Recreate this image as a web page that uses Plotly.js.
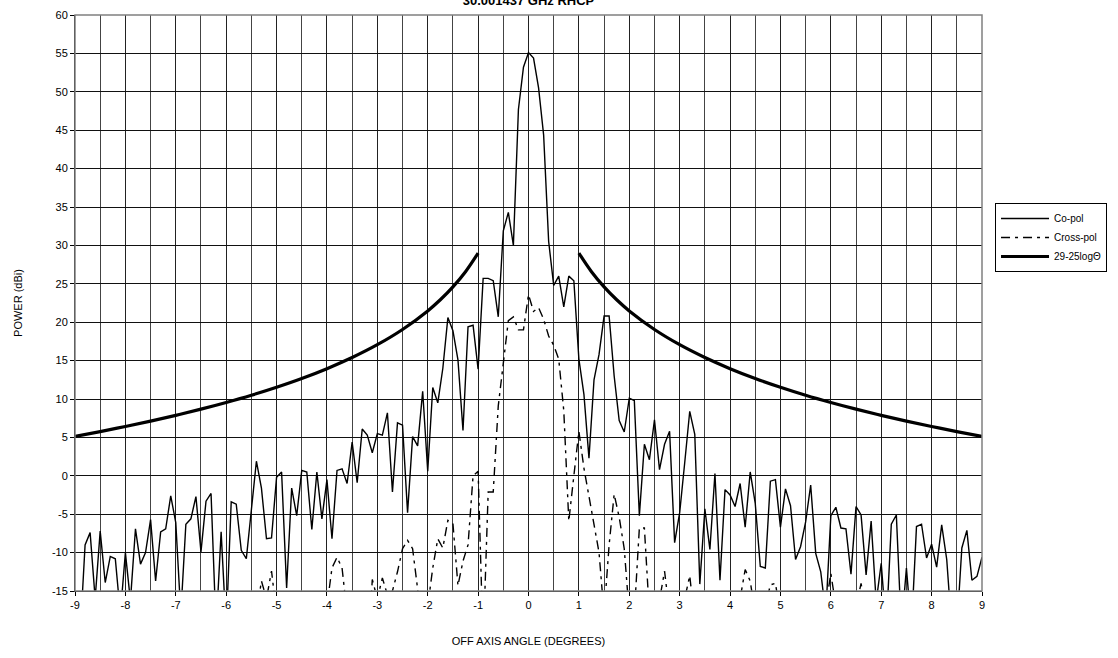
<!DOCTYPE html>
<html>
<head>
<meta charset="utf-8">
<script src="https://cdn.plot.ly/plotly-3.0.1.min.js"></script>
<style>html,body{margin:0;padding:0;background:#fff;}#chart{width:1118px;height:658px;}</style>
</head>
<body>
<div id="chart"></div>
<script>
// Off-axis angle (degrees), 0.1 deg steps from -9 to 9
const angles = [];
for (let i = 0; i <= 180; i++) angles.push(Math.round((-9 + i * 0.1) * 10) / 10);

// Co-pol (dBi)
const coPol = [
 -20,-21,-9.0,-7.4,-16,-7.2,-13.9,-10.5,-10.8,-18,
 -10.0,-16.3,-6.9,-11.5,-10.0,-5.7,-13.7,-7.3,-6.9,-2.6,
 -6.1,-18,-6.3,-5.6,-2.7,-9.9,-3.3,-2.3,-20,-7.3,
 -20,-3.4,-3.7,-9.7,-10.8,-4.5,1.9,-1.6,-8.2,-8.1,
 -0.2,0.5,-14.6,-1.6,-5.2,0.7,0.5,-7.0,0.5,-5.6,
 -0.5,-8.2,0.7,0.9,-1.0,4.4,-0.9,6.1,5.3,3.0,
 5.5,5.3,8.2,-2.1,6.9,6.6,-4.8,5.1,3.9,11.0,
 0.6,11.5,9.5,14.0,20.6,18.9,15.1,5.9,19.4,19.6,
 13.9,25.7,25.7,25.4,20.7,31.9,34.3,30.0,47.7,53.2,
 55.1,54.4,50.5,44.4,30.5,24.8,26.0,22.0,26.0,25.4,
 15.2,10.6,2.3,12.5,15.8,20.8,20.8,13.0,7.2,5.7,
 10.1,9.8,-5.2,4.1,2.1,7.3,0.8,4.1,5.8,-8.7,
 -4.8,1.7,8.4,5.4,-14.1,-4.3,-9.6,0.3,-13.6,-1.8,
 -2.5,-4.0,-1.0,-6.7,0.5,-3.6,-11.8,-12.0,-0.7,-0.5,
 -6.7,-1.7,-3.9,-10.9,-9.2,-6.0,-1.2,-10.1,-12.5,-18,
 -5.2,-4.1,-6.8,-6.9,-12.8,-4.0,-5.1,-12.9,-5.9,-16.4,
 -11.4,-20,-6.3,-5.1,-20,-12.0,-20,-6.6,-6.3,-10.7,
 -8.9,-11.9,-6.4,-10.9,-20,-20,-9.4,-7.1,-13.6,-13.1,
 -10.6
];

// Cross-pol (dBi)
const crossPol = [
 -25,-25,-25,-25,-25,-25,-25,-25,-25,-25,
 -25,-25,-25,-25,-25,-25,-25,-25,-25,-25,
 -25,-25,-25,-25,-25,-25,-25,-25,-25,-25,
 -25,-25,-25,-25,-25,-25,-18,-13.7,-16,-12.4,
 -18,-25,-25,-25,-25,-25,-25,-25,-25,-25,
 -17,-12,-10.6,-12,-18,-25,-25,-25,-25,-13.5,
 -16,-13.3,-15.5,-15,-12.5,-9.5,-8.4,-9.5,-14.5,-20,
 -17,-12,-8.2,-9.4,-5.8,-6.2,-14.3,-11.1,-9.0,0.0,
 0.6,-22,-2.1,-2.1,9.1,15.1,20.2,20.7,19.0,19.0,
 23.6,21.4,21.9,20.4,18.2,17.0,15.2,8.5,-5.9,0.0,
 5.8,1.0,-2.5,-6.5,-10.0,-18,-9.0,-2.4,-5.4,-9.5,
 -18,-18,-6.8,-6.8,-18,-20,-16,-12.4,-18,-25,
 -25,-16,-13.0,-20,-25,-25,-25,-25,-25,-25,
 -25,-25,-16,-12.2,-13.7,-18,-25,-17,-14.2,-14.0,
 -18,-25,-25,-25,-25,-25,-25,-25,-25,-17,
 -12.7,-17,-25,-25,-25,-17,-14.0,-18,-25,-25,
 -25,-25,-25,-25,-25,-25,-25,-25,-25,-25,
 -25,-25,-25,-25,-25,-25,-25,-25,-25,-25,
 -25
];

// 29-25logΘ envelope, values (null splits the two halves)
const envAngles = [-9,-8.5,-8,-7.5,-7,-6.5,-6,-5.5,-5,-4.5,-4,-3.5,-3,-2.5,-2,-1.75,-1.5,-1.25,-1,
                   null,
                   1,1.25,1.5,1.75,2,2.5,3,3.5,4,4.5,5,5.5,6,6.5,7,7.5,8,8.5,9];
const envValues = [5.14,5.76,6.42,7.12,7.87,8.68,9.55,10.49,11.53,12.67,13.95,15.40,17.07,19.05,21.47,22.92,24.60,26.58,29.0,
                   null,
                   29.0,26.58,24.60,22.92,21.47,19.05,17.07,15.40,13.95,12.67,11.53,10.49,9.55,8.68,7.87,7.12,6.42,5.76,5.14];

const xTicks = [-9,-8,-7,-6,-5,-4,-3,-2,-1,0,1,2,3,4,5,6,7,8,9];
const yTicks = [-15,-10,-5,0,5,10,15,20,25,30,35,40,45,50,55,60];

const FONT = 'Arial, "Liberation Sans", sans-serif';

const traces = [
  {x: angles, y: coPol, name: 'Co-pol', type: 'scatter', mode: 'lines',
   line: {color: '#000', width: 1.4}},
  {x: angles, y: crossPol, name: 'Cross-pol', type: 'scatter', mode: 'lines',
   line: {color: '#000', width: 1.4, dash: '9px,5px,3px,5px'}},
  {x: envAngles, y: envValues, name: '29-25log\u0398', type: 'scatter', mode: 'lines',
   connectgaps: false, line: {color: '#000', width: 3.2, shape: 'spline'}}
];

const layout = {
  width: 1118, height: 658,
  margin: {l: 75, r: 136, t: 15, b: 67},
  paper_bgcolor: '#fff', plot_bgcolor: '#fff',
  showlegend: true,
  font: {family: FONT, size: 11, color: '#000'},
  title: {text: '30.001437 GHz RHCP', font: {family: FONT, size: 13, weight: 'bold', color: '#000'},
          x: 0.4727, xanchor: 'center', y: 0.999, yanchor: 'middle', yref: 'container'},
  xaxis: {range: [-9, 9], tickmode: 'array', tickvals: xTicks, ticktext: xTicks.map(String),
          ticks: 'outside', ticklen: 4, tickcolor: '#000', showline: true, linecolor: '#000', linewidth: 1,
          showgrid: true, gridcolor: '#222', gridwidth: 1, zeroline: false,
          minor: {dtick: 0.5, tick0: 0, showgrid: true, gridcolor: '#444', gridwidth: 1, ticks: ''},
          tickfont: {family: FONT, size: 11},
          title: {text: 'OFF AXIS ANGLE (DEGREES)', font: {family: FONT, size: 11}, standoff: 27},
          automargin: false},
  yaxis: {range: [-15, 60], tickmode: 'array', tickvals: yTicks, ticktext: yTicks.map(String),
          ticks: 'outside', ticklen: 4, tickcolor: '#000', showline: true, linecolor: '#000', linewidth: 1,
          showgrid: true, gridcolor: '#111', gridwidth: 1, zeroline: false,
          tickfont: {family: FONT, size: 11},
          title: {text: 'POWER (dBi)', font: {family: FONT, size: 11}, standoff: 27},
          automargin: false},
  legend: {xref: 'container', yref: 'container', x: 0.89, xanchor: 'left', y: 0.6915, yanchor: 'top',
           bordercolor: '#000', borderwidth: 1, bgcolor: '#fff',
           font: {family: FONT, size: 10}, tracegroupgap: 0, itemwidth: 48},
  shapes: [{type: 'rect', xref: 'paper', yref: 'paper', x0: 0, x1: 1, y0: 0, y1: 1,
            line: {color: '#808080', width: 1.5}, fillcolor: 'rgba(0,0,0,0)', layer: 'above'}]
};

Plotly.newPlot('chart', traces, layout, {displayModeBar: false, staticPlot: true});
</script>
</body>
</html>
